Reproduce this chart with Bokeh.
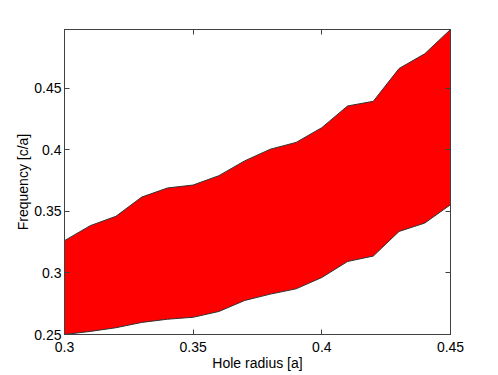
from bokeh.plotting import figure
from bokeh.models import Range1d, FixedTicker, LinearAxis
from bokeh.embed import file_html
from bokeh.resources import INLINE

radius = [0.30, 0.31, 0.32, 0.33, 0.34, 0.35, 0.36, 0.37, 0.38, 0.39, 0.40, 0.41, 0.42, 0.43, 0.44, 0.45]
lower = [0.250, 0.2525, 0.2555, 0.2598, 0.2624, 0.2640, 0.2687, 0.2776, 0.2828, 0.2871, 0.2963, 0.3093, 0.3137, 0.3337, 0.3405, 0.3554]
upper = [0.3262, 0.3384, 0.3460, 0.3616, 0.3690, 0.3714, 0.3790, 0.3910, 0.4005, 0.4060, 0.4180, 0.4356, 0.4394, 0.4660, 0.4780, 0.4977]
x_ticks = [0.3, 0.35, 0.4, 0.45]
y_ticks = [0.25, 0.3, 0.35, 0.4, 0.45]

FONT = "Liberation Sans"
AX = "#404040"

p = figure(frame_width=386, frame_height=305, output_backend="svg", toolbar_location=None,
           x_range=Range1d(min(radius), max(radius)),
           y_range=Range1d(min(lower), max(upper)),
           min_border_left=64, min_border_right=28, min_border_top=29, min_border_bottom=30)
p.xgrid.visible = False
p.ygrid.visible = False
p.outline_line_color = AX
p.background_fill_color = "white"

xs = radius + radius[::-1]
ys = upper + lower[::-1]
p.patch(xs, ys, fill_color="#ff0000", line_color="#333333", line_width=1)

def style(ax, ticks, labels=True):
    ax.ticker = FixedTicker(ticks=ticks)
    ax.major_tick_in = 5
    ax.major_tick_out = 0
    ax.minor_tick_in = 0
    ax.minor_tick_out = 0
    ax.axis_line_color = AX
    ax.major_tick_line_color = AX
    ax.major_label_text_font = FONT
    ax.major_label_text_color = "black"
    ax.major_label_text_font_size = "14px"
    if not labels:
        ax.major_label_overrides = {t: "" for t in ticks}
        ax.major_label_standoff = 0
    ax.axis_label_text_font = FONT
    ax.axis_label_text_font_size = "14px"
    ax.axis_label_text_font_style = "normal"
    ax.axis_label_text_color = "black"

style(p.xaxis[0], x_ticks)
style(p.yaxis[0], y_ticks)
p.xaxis[0].axis_label = "Hole radius [a]"
p.yaxis[0].axis_label = "Frequency [c/a]"
p.xaxis[0].major_label_standoff = 7
p.xaxis[0].axis_label_standoff = 0
p.yaxis[0].major_label_standoff = 3
p.yaxis[0].axis_label_standoff = 0

top = LinearAxis()
right = LinearAxis()
style(top, x_ticks, labels=False)
style(right, y_ticks, labels=False)
p.add_layout(top, "above")
p.add_layout(right, "right")

open("out.html", "w").write(file_html(p, INLINE))
